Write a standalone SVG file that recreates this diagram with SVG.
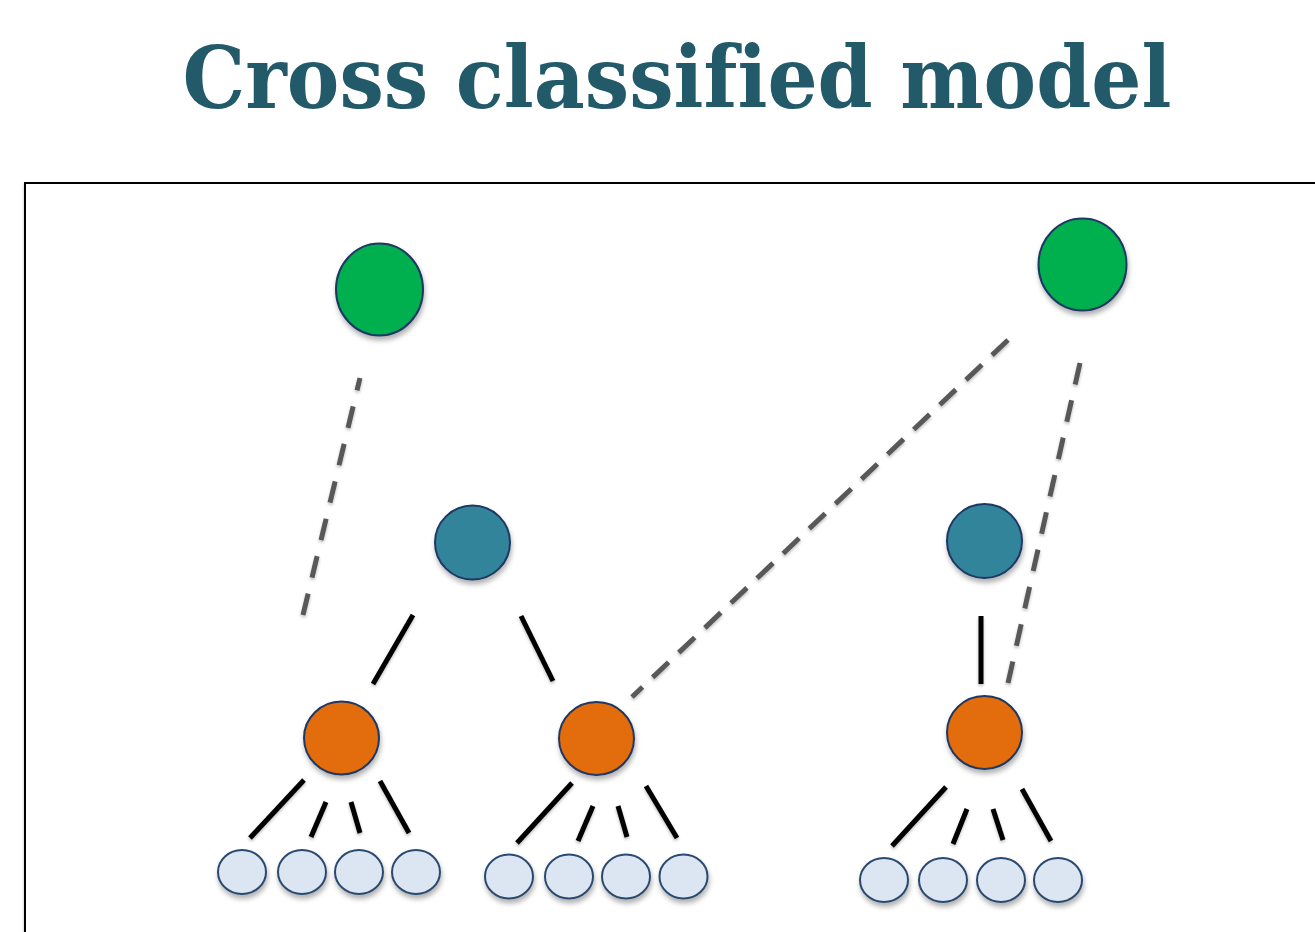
<svg xmlns="http://www.w3.org/2000/svg" width="1315" height="932" viewBox="0 0 1315 932">
<defs>
<filter id="sh" x="-30%" y="-30%" width="160%" height="170%">
<feDropShadow dx="1" dy="4" stdDeviation="2.5" flood-color="#000" flood-opacity="0.3"/>
</filter>
<filter id="lsh" x="-30%" y="-30%" width="160%" height="160%">
<feDropShadow dx="0" dy="2" stdDeviation="1.5" flood-color="#000" flood-opacity="0.25"/>
</filter>
</defs>
<style>
.title{font-family:"DejaVu Serif","Liberation Serif",serif;font-weight:bold;fill:#235A6A;font-variant-ligatures:none;}
.nd{stroke:#1F3763;stroke-width:2;}
.green{fill:#00B050;}
.teal{fill:#31849B;}
.orange{fill:#E36C0A;}
.leaf{fill:#DCE6F2;stroke:#2B4A6F;stroke-width:2;}
.solid{stroke:#000;stroke-width:5;fill:none;}
.dash{stroke:#595959;stroke-width:5;fill:none;stroke-dasharray:22 14;}
</style>
<rect width="1315" height="932" fill="#fff"/>
<text class="title" x="677" y="108" font-size="86" text-anchor="middle" textLength="989" lengthAdjust="spacingAndGlyphs">Cross classified model</text>
<rect x="25" y="183" width="1310" height="800" fill="#fff" stroke="#000" stroke-width="2" filter="url(#lsh)"/>
<g id="connectors" filter="url(#lsh)">
<line class="dash" x1="303" y1="615" x2="360" y2="378" style="stroke-dasharray:22 16.5"/>
<line class="dash" x1="1008" y1="340" x2="632" y2="697"/>
<line class="dash" x1="1008" y1="683" x2="1080" y2="363" style="stroke-dasharray:22 16.25"/>
<line class="solid" x1="413" y1="615" x2="373" y2="684"/>
<line class="solid" x1="521" y1="616" x2="553" y2="681"/>
<line class="solid" x1="981" y1="616" x2="981" y2="684"/>
<line class="solid" x1="304" y1="780" x2="250" y2="838"/>
<line class="solid" x1="326" y1="802" x2="311" y2="837"/>
<line class="solid" x1="351" y1="802" x2="360" y2="833"/>
<line class="solid" x1="380" y1="781" x2="409" y2="833"/>
<line class="solid" x1="572" y1="783" x2="517" y2="843"/>
<line class="solid" x1="593" y1="806" x2="578" y2="841"/>
<line class="solid" x1="618" y1="806" x2="627" y2="837"/>
<line class="solid" x1="646" y1="786" x2="677" y2="838"/>
<line class="solid" x1="946" y1="787" x2="892" y2="846"/>
<line class="solid" x1="967" y1="809" x2="953" y2="844"/>
<line class="solid" x1="993" y1="809" x2="1003" y2="840"/>
<line class="solid" x1="1022" y1="789" x2="1051" y2="841"/>
</g>
<g id="g1" filter="url(#sh)"><ellipse class="nd green" cx="379.5" cy="289.5" rx="43.5" ry="46"/></g>
<g id="g2" filter="url(#sh)"><ellipse class="nd green" cx="1082.5" cy="264.5" rx="44" ry="46"/></g>
<g id="t1" filter="url(#sh)"><ellipse class="nd teal" cx="472.5" cy="542.5" rx="37.5" ry="37"/></g>
<g id="t2" filter="url(#sh)"><ellipse class="nd teal" cx="984.5" cy="541" rx="37.5" ry="37"/></g>
<g id="o1" filter="url(#sh)"><ellipse class="nd orange" cx="341.5" cy="738" rx="37.5" ry="36.5"/></g>
<g id="o2" filter="url(#sh)"><ellipse class="nd orange" cx="596.5" cy="738.5" rx="37.5" ry="36.5"/></g>
<g id="o3" filter="url(#sh)"><ellipse class="nd orange" cx="984.5" cy="732.5" rx="37.5" ry="36.5"/></g>
<g id="l1" filter="url(#sh)"><ellipse class="leaf" cx="242" cy="872" rx="24" ry="22"/></g>
<g id="l2" filter="url(#sh)"><ellipse class="leaf" cx="302" cy="872" rx="24" ry="22"/></g>
<g id="l3" filter="url(#sh)"><ellipse class="leaf" cx="359" cy="872" rx="24" ry="22"/></g>
<g id="l4" filter="url(#sh)"><ellipse class="leaf" cx="416" cy="872" rx="24" ry="22"/></g>
<g id="l5" filter="url(#sh)"><ellipse class="leaf" cx="509" cy="876.5" rx="24" ry="22"/></g>
<g id="l6" filter="url(#sh)"><ellipse class="leaf" cx="569" cy="876.5" rx="24" ry="22"/></g>
<g id="l7" filter="url(#sh)"><ellipse class="leaf" cx="626" cy="876.5" rx="24" ry="22"/></g>
<g id="l8" filter="url(#sh)"><ellipse class="leaf" cx="683.5" cy="876.5" rx="24" ry="22"/></g>
<g id="l9" filter="url(#sh)"><ellipse class="leaf" cx="884" cy="880" rx="24" ry="22"/></g>
<g id="l10" filter="url(#sh)"><ellipse class="leaf" cx="943" cy="880" rx="24" ry="22"/></g>
<g id="l11" filter="url(#sh)"><ellipse class="leaf" cx="1001" cy="880" rx="24" ry="22"/></g>
<g id="l12" filter="url(#sh)"><ellipse class="leaf" cx="1058" cy="880" rx="24" ry="22"/></g>
</svg>
